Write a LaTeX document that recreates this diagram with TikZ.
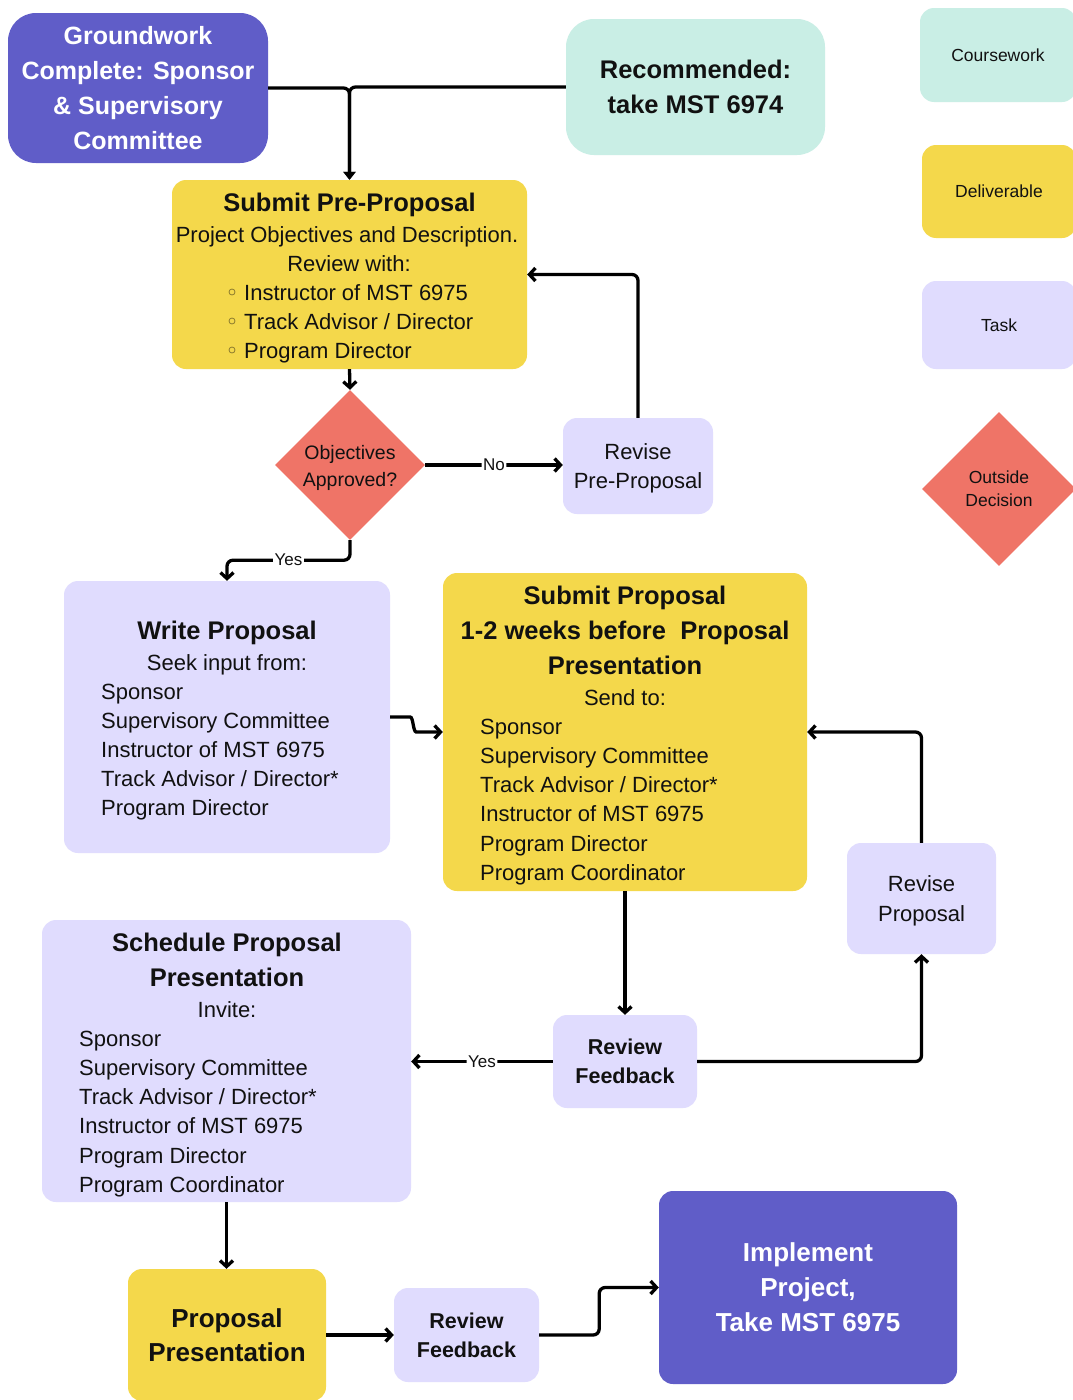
\documentclass[tikz,border=0pt]{standalone}
\usepackage{fontspec}
\setmainfont{Liberation Sans}
\usetikzlibrary{shapes.geometric,arrows.meta}
\definecolor{cpurple}{HTML}{605DC8}
\definecolor{cteal}{HTML}{C9EEE5}
\definecolor{cyellow}{HTML}{F4D84B}
\definecolor{clav}{HTML}{E0DCFE}
\definecolor{csalmon}{HTML}{EF7467}
\definecolor{cbullet}{HTML}{8C7B2E}
\definecolor{ctext}{HTML}{111111}
\begin{document}
\begin{tikzpicture}[x=1pt,y=-1pt,
  box/.style={rectangle, rounded corners=14pt, inner sep=0pt, align=center, text=ctext},
  bigbox/.style={box, rounded corners=28pt},
  dec/.style={diamond, aspect=1, inner sep=0pt, align=center, fill=csalmon, text=ctext},
  ttl/.style={font=\fontsize{25.5}{35}\selectfont\bfseries, text=ctext, inner sep=0pt},
  bodytxt/.style={font=\fontsize{22}{29}\selectfont, text=ctext, inner sep=0pt},
  legtxt/.style={font=\fontsize{17.5}{23}\selectfont},
  lbl/.style={fill=white, inner sep=1.5pt, font=\fontsize{17}{17}\selectfont, text=ctext},
  conn/.style={line width=3.3pt, draw=black, rounded corners=6pt, -{Straight Barb[length=6pt,width=13pt]}},
  bul/.style={circle, draw=cbullet, line width=0.8pt, inner sep=0pt, minimum size=6pt}
]
\clip (0,0) rectangle (1073,1400);
\fill[white] (0,0) rectangle (1073,1400);

% legend
\node[box, fill=cteal, minimum width=156, minimum height=94, legtxt] (leg1) at (998,55) {Coursework};
\node[box, fill=cyellow, minimum width=154, minimum height=93, legtxt] (leg2) at (999,191.5) {Deliverable};
\node[box, fill=clav, minimum width=154, minimum height=88, legtxt] (leg3) at (999,325) {Task};
\node[dec, minimum width=154, minimum height=154, legtxt] (leg4) at (999,489)
  {\raisebox{-1pt}[\height][\depth]{\begin{tabular}{@{}c@{}}Outside\\Decision\end{tabular}}};

% top
\node[bigbox, fill=cpurple, minimum width=260, minimum height=150, text=white,
  font=\fontsize{25}{35}\selectfont\bfseries] (gw) at (138,88)
  {Groundwork\\Complete: Sponsor\\\& Supervisory\\Committee};
\node[bigbox, fill=cteal, minimum width=259, minimum height=136,
  font=\fontsize{25.5}{35}\selectfont\bfseries] (rec) at (695.5,87)
  {Recommended:\\take MST 6974};

% pre-proposal
\node[box, fill=cyellow, minimum width=355, minimum height=189] (pre) at (349.5,274.5) {};
\node[ttl, anchor=base] (preT) at (349.5,211) {Submit Pre-Proposal};
\node[bodytxt, anchor=base] (preA) at (347,242) {Project Objectives and Description.};
\node[bodytxt, anchor=base] (preB) at (349,271) {Review with:};
\foreach \t [count=\i] in {Instructor of MST 6975, Track Advisor / Director, Program Director}{
  \node[bul] (preb\i) at (232,263+29*\i) {};
  \node[bodytxt, anchor=base west] (prel\i) at (244,271+29*\i) {\t};
}

% decision
\node[dec, minimum width=150, minimum height=150, font=\fontsize{19.5}{27}\selectfont] (dia) at (350,465)
  {\raisebox{-3pt}[\height][\depth]{\begin{tabular}{@{}c@{}}Objectives\\Approved?\end{tabular}}};
\node[box, fill=clav, minimum width=150, minimum height=96, font=\fontsize{22}{29}\selectfont] (rp) at (638,466)
  {\raisebox{-2pt}[\height][\depth]{\begin{tabular}{@{}c@{}}Revise\\Pre-Proposal\end{tabular}}};

% write proposal
\node[box, fill=clav, minimum width=326, minimum height=272] (wp) at (227,717) {};
\node[ttl, anchor=base] (wpT) at (227,639) {Write Proposal};
\node[bodytxt, anchor=base] (wpA) at (227,670) {Seek input from:};
\foreach \t [count=\i] in {Sponsor, Supervisory Committee, Instructor of MST 6975, Track Advisor / Director*, Program Director}{
  \node[bodytxt, anchor=base west] (wpl\i) at (101,670+29*\i) {\t};
}

% submit proposal
\node[box, fill=cyellow, minimum width=364, minimum height=318] (sp) at (625,732) {};
\node[ttl, anchor=base] (spT1) at (625,604) {Submit Proposal};
\node[ttl, anchor=base] (spT2) at (625,639) {1-2 weeks before\ \ Proposal};
\node[ttl, anchor=base] (spT3) at (625,674) {Presentation};
\node[bodytxt, anchor=base] (spA) at (625,705) {Send to:};
\foreach \t [count=\i] in {Sponsor, Supervisory Committee, Track Advisor / Director*, Instructor of MST 6975, Program Director, Program Coordinator}{
  \node[bodytxt, anchor=base west] (spl\i) at (480,705+29.2*\i) {\t};
}

\node[box, fill=clav, minimum width=149, minimum height=111, font=\fontsize{22}{30}\selectfont] (rv) at (921.5,898.5)
  {\raisebox{-2pt}[\height][\depth]{\begin{tabular}{@{}c@{}}Revise\\Proposal\end{tabular}}};
\node[box, fill=clav, minimum width=144, minimum height=93, font=\fontsize{21.5}{29}\selectfont\bfseries] (rf) at (625,1061.5) {Review\\Feedback};

% schedule
\node[box, fill=clav, minimum width=369, minimum height=282] (sch) at (226.5,1061) {};
\node[ttl, anchor=base] (schT1) at (227,951) {Schedule Proposal};
\node[ttl, anchor=base] (schT2) at (227,986) {Presentation};
\node[bodytxt, anchor=base] (schA) at (227,1017) {Invite:};
\foreach \t [count=\i] in {Sponsor, Supervisory Committee, Track Advisor / Director*, Instructor of MST 6975, Program Director, Program Coordinator}{
  \node[bodytxt, anchor=base west] (schl\i) at (79,1017+29.2*\i) {\t};
}

% bottom
\node[box, fill=cyellow, minimum width=198, minimum height=132, font=\fontsize{26}{34}\selectfont\bfseries] (pp) at (227,1335) {Proposal\\Presentation};
\node[box, fill=clav, minimum width=145, minimum height=94, font=\fontsize{21.5}{29}\selectfont\bfseries] (rf2) at (466.5,1335) {Review\\Feedback};
\node[box, fill=cpurple, minimum width=298, minimum height=193, text=white, font=\fontsize{26}{35}\selectfont\bfseries] (im) at (808,1287.5) {Implement\\Project,\\Take MST 6975};

% connectors
\draw[conn, -{Triangle[length=8pt,width=12pt]}] (gw.east) -| (pre.north);
\draw[conn, -{Triangle[length=8pt,width=12pt]}] (rec.west) -| (pre.north);
\draw[conn] (pre.south) -- (dia.north);
\draw[conn] (dia.east) -- node[lbl] (noL) {No} (dia.east -| rp.west);
\draw[conn] (rp.north) |- (pre.east);
\draw[conn] (dia.south) -- ++(0,20) -| node[lbl, pos=0.25] (yesL1) {Yes} (wp.north);
\draw[conn] (wp.east) -- ++(14,0) to[out=0,in=180] ++(18,15) -- (sp.west);
\draw[conn] (rv.north) |- (sp.east);
\draw[conn] (sp.south) -- (rf.north);
\draw[conn] (rf.east) -| (rv.south);
\draw[conn] (rf.west) -- node[lbl] (yesL2) {Yes} (rf.west -| sch.east);
\draw[conn] (sch.south) -- (sch.south |- pp.north);
\draw[conn] (rf2.west -| pp.east) -- (rf2.west);
\draw[conn] (rf2.east) -- ++(60,0) |- (im.west);
\end{tikzpicture}
\end{document}
